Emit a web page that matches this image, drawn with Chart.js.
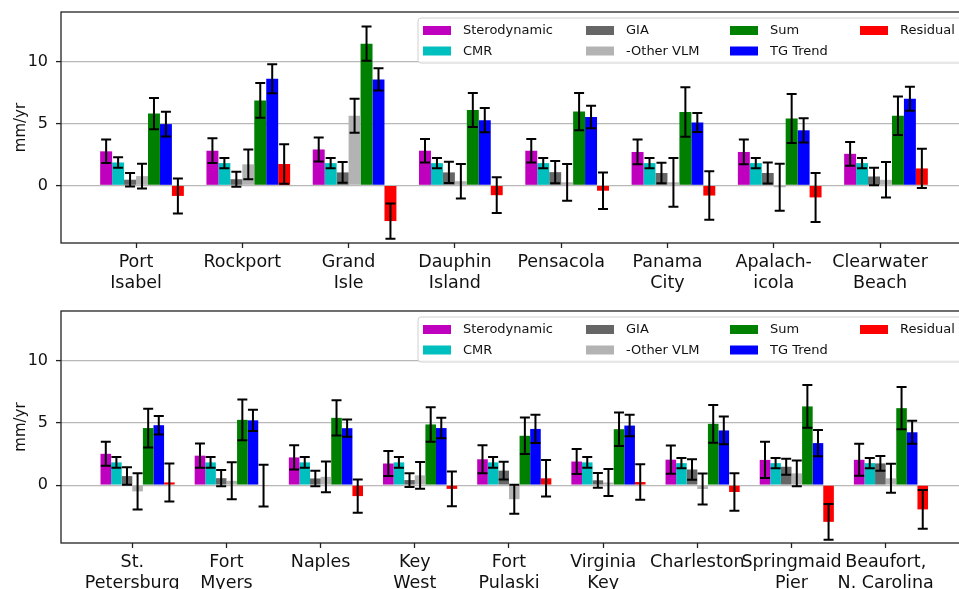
<!DOCTYPE html>
<html><head><meta charset="utf-8">
<script src="https://cdn.jsdelivr.net/npm/chart.js@4/dist/chart.umd.min.js"></script>
<style>
html,body{margin:0;padding:0;background:#fff;width:959px;height:589px;overflow:hidden;position:relative;}
canvas{position:absolute;left:0;}
#c1{top:0px} #c2{top:300px}
</style></head><body>
<canvas id="c1" width="965" height="300"></canvas>
<canvas id="c2" width="965" height="310"></canvas>
<script>
// ---------- data ----------
const seriesNames = ['Sterodynamic', 'CMR', 'GIA', '-Other VLM', 'Sum', 'TG Trend', 'Residual'];
const seriesColors = ['#bf00bf', '#00bfbf', '#666666', '#b3b3b3', '#008000', '#0000ff', '#ff0000'];
const yTicks = [0, 5, 10];

// top panel
const topStations = [['Port', 'Isabel'], 'Rockport', ['Grand', 'Isle'], ['Dauphin', 'Island'], 'Pensacola', ['Panama', 'City'], ['Apalach-', 'icola'], ['Clearwater', 'Beach']];
const topSterodynamic = [2.75, 2.8, 2.9, 2.8, 2.8, 2.7, 2.7, 2.55];
const topSterodynamicErr = [0.95, 1.0, 0.96, 0.95, 0.95, 1.0, 1.0, 0.96];
const topCMR = [1.85, 1.8, 1.8, 1.8, 1.8, 1.8, 1.8, 1.8];
const topCMRErr = [0.42, 0.42, 0.42, 0.42, 0.42, 0.42, 0.42, 0.42];
const topGIA = [0.46, 0.5, 1.05, 1.05, 1.07, 1.0, 1.0, 0.72];
const topGIAErr = [0.55, 0.6, 0.83, 0.85, 0.9, 0.83, 0.85, 0.71];
const topOtherVLM = [0.75, 1.7, 5.63, 0.34, 0.25, 0.25, -0.15, 0.45];
const topOtherVLMErr = [1.0, 1.2, 1.37, 1.39, 1.48, 1.97, 1.9, 1.43];
const topSum = [5.8, 6.86, 11.44, 6.09, 5.96, 5.92, 5.4, 5.62];
const topSumErr = [1.26, 1.4, 1.38, 1.38, 1.5, 2.0, 1.98, 1.56];
const topTG = [4.95, 8.62, 8.56, 5.27, 5.52, 5.08, 4.45, 6.99];
const topTGErr = [1.0, 1.17, 0.9, 0.97, 0.91, 0.77, 0.98, 0.97];
const topResidual = [-0.85, 1.73, -2.88, -0.79, -0.43, -0.82, -0.97, 1.37];
const topResidualErr = [1.41, 1.6, 1.42, 1.44, 1.48, 1.96, 1.98, 1.58];

// bottom panel
const botStations = [['St.', 'Petersburg'], ['Fort', 'Myers'], 'Naples', ['Key', 'West'], ['Fort', 'Pulaski'], ['Virginia', 'Key'], 'Charleston', ['Springmaid', 'Pier'], ['Beaufort,', 'N. Carolina']];
const botSterodynamic = [2.52, 2.37, 2.23, 1.74, 2.08, 1.9, 2.05, 2.03, 2.04];
const botSterodynamicErr = [0.97, 0.97, 0.97, 1.0, 1.13, 1.0, 1.13, 1.45, 1.28];
const botCMR = [1.83, 1.83, 1.83, 1.83, 1.83, 1.83, 1.77, 1.77, 1.77];
const botCMRErr = [0.43, 0.43, 0.43, 0.43, 0.43, 0.43, 0.42, 0.42, 0.42];
const botGIA = [0.73, 0.56, 0.54, 0.41, 1.17, 0.39, 1.26, 1.48, 1.75];
const botGIAErr = [0.7, 0.65, 0.62, 0.55, 0.71, 0.59, 0.83, 0.65, 0.6];
const botOtherVLM = [-0.5, 0.35, 0.67, 0.79, -1.13, 0.21, -0.31, 0.95, 0.55];
const botOtherVLMErr = [1.45, 1.49, 1.24, 1.08, 1.17, 1.08, 1.25, 1.04, 1.17];
const botSum = [4.59, 5.25, 5.41, 4.88, 3.97, 4.5, 4.93, 6.33, 6.19];
const botSumErr = [1.56, 1.64, 1.41, 1.39, 1.47, 1.35, 1.52, 1.72, 1.7];
const botTG = [4.82, 5.21, 4.58, 4.59, 4.52, 4.79, 4.4, 3.38, 4.25];
const botTGErr = [0.74, 0.85, 0.69, 0.82, 1.13, 0.86, 1.12, 1.05, 0.92];
const botResidual = [0.22, -0.04, -0.88, -0.3, 0.55, 0.25, -0.55, -2.95, -1.95];
const botResidualErr = [1.53, 1.68, 1.33, 1.39, 1.47, 1.43, 1.51, 1.44, 1.56];

// ---------- plugins ----------
const FONT = 'DejaVu Sans';

const errorBarPlugin = {
  id: 'errorBars',
  afterDatasetsDraw(chart) {
    const ctx = chart.ctx, ys = chart.scales.y;
    ctx.save();
    ctx.strokeStyle = '#000';
    ctx.lineWidth = 2;
    chart.data.datasets.forEach((ds, di) => {
      if (!ds.errors) return;
      const meta = chart.getDatasetMeta(di);
      meta.data.forEach((bar, i) => {
        const v = ds.data[i].y, e = ds.errors[i];
        const x = bar.x;
        const y1 = ys.getPixelForValue(v + e), y2 = ys.getPixelForValue(v - e);
        ctx.beginPath();
        ctx.moveTo(x, y1); ctx.lineTo(x, y2);
        ctx.moveTo(x - 5, y1); ctx.lineTo(x + 5, y1);
        ctx.moveTo(x - 5, y2); ctx.lineTo(x + 5, y2);
        ctx.stroke();
      });
    });
    ctx.restore();
  }
};

const framePlugin = {
  id: 'frame',
  afterDraw(chart) {
    const {ctx, chartArea: a} = chart;
    ctx.save();
    ctx.strokeStyle = '#222';
    ctx.lineWidth = 1.3;
    ctx.strokeRect(a.left, a.top, a.right - a.left, a.bottom - a.top);
    ctx.restore();
  }
};

const boxLegendPlugin = {
  id: 'boxLegend',
  afterDraw(chart) {
    const {ctx, chartArea: a} = chart;
    const bx = a.left + 357, by = a.top + 6, bw = a.right - bx + 20, bh = 45, r = 3;
    ctx.save();
    ctx.beginPath();
    ctx.moveTo(bx + r, by);
    ctx.lineTo(bx + bw - r, by);
    ctx.arcTo(bx + bw, by, bx + bw, by + r, r);
    ctx.lineTo(bx + bw, by + bh - r);
    ctx.arcTo(bx + bw, by + bh, bx + bw - r, by + bh, r);
    ctx.lineTo(bx + r, by + bh);
    ctx.arcTo(bx, by + bh, bx, by + bh - r, r);
    ctx.lineTo(bx, by + r);
    ctx.arcTo(bx, by, bx + r, by, r);
    ctx.closePath();
    ctx.fillStyle = 'rgba(255,255,255,0.85)';
    ctx.fill();
    ctx.strokeStyle = '#d0d0d0';
    ctx.lineWidth = 1;
    ctx.stroke();
    const colX = [362, 525, 669, 799];
    const rowY = [18.5, 39];
    ctx.font = '13px "' + FONT + '"';
    ctx.textBaseline = 'middle';
    ctx.textAlign = 'left';
    seriesNames.forEach((name, i) => {
      const c = Math.floor(i / 2), rr = i % 2;
      const sx = a.left + colX[c], sy = a.top + rowY[rr];
      ctx.fillStyle = seriesColors[i];
      ctx.fillRect(sx, sy - 4.5, 28, 9);
      ctx.fillStyle = '#111';
      ctx.fillText(name, sx + 40, sy + 0.5);
    });
    ctx.restore();
  }
};

// ---------- chart builder ----------
function makeChart(id, stations, values, errors, xmin, xmax, padTop, xAxisH) {
  const datasets = [{
    label: '', data: stations.map((_, i) => ({x: i, y: 0})),
    backgroundColor: 'rgba(0,0,0,0)', borderWidth: 0
  }];
  values.forEach((vals, s) => {
    datasets.push({
      label: seriesNames[s],
      data: vals.map((v, i) => ({x: i, y: v})),
      errors: errors[s],
      backgroundColor: seriesColors[s],
      borderWidth: 0
    });
  });
  return new Chart(document.getElementById(id), {
    type: 'bar',
    data: {datasets},
    options: {
      responsive: false, animation: false, devicePixelRatio: 1,
      layout: {padding: {top: padTop, right: 4, left: 0, bottom: 0}},
      plugins: {legend: {display: false}, tooltip: {enabled: false}, title: {display: false}},
      datasets: {bar: {categoryPercentage: 0.9, barPercentage: 1}},
      scales: {
        x: {
          type: 'linear', min: xmin, max: xmax, offset: false, bounds: 'data',
          grid: {offset: false, display: true, drawOnChartArea: false, drawTicks: true, tickLength: 5, tickColor: '#222', tickWidth: 1.3},
          border: {display: false},
          afterBuildTicks: s => { s.ticks = stations.map((_, i) => ({value: i})); },
          afterFit: s => { s.height = xAxisH; s.paddingLeft = 0; s.paddingRight = 0; s.paddingTop = 0; s.paddingBottom = 0; },
          ticks: {autoSkip: false, maxRotation: 0, minRotation: 0, padding: 4, color: '#111',
                  font: {family: FONT, size: 17.5},
                  callback: (v, i) => stations[i]}
        },
        y: {
          min: -4.65, max: 14, bounds: 'data',
          grid: {color: '#b8b8b8', lineWidth: 1.2, drawTicks: true, tickLength: 5, tickColor: '#222', tickWidth: 1.3},
          border: {display: false},
          afterBuildTicks: s => { s.ticks = yTicks.map(v => ({value: v})); },
          afterFit: s => { s.width = 61; s.paddingTop = 0; s.paddingBottom = 0; s.paddingLeft = 0; s.paddingRight = 0; },
          ticks: {padding: 8, color: '#111', font: {family: FONT, size: 16}},
          title: {display: true, text: 'mm/yr', color: '#111', font: {family: FONT, size: 15}, padding: {top: 12, bottom: 0}}
        }
      }
    },
    plugins: [errorBarPlugin, framePlugin, boxLegendPlugin]
  });
}

makeChart('c1', topStations,
  [topSterodynamic, topCMR, topGIA, topOtherVLM, topSum, topTG, topResidual],
  [topSterodynamicErr, topCMRErr, topGIAErr, topOtherVLMErr, topSumErr, topTGErr, topResidualErr],
  -0.706, 7.762, 12, 57);

makeChart('c2', botStations,
  [botSterodynamic, botCMR, botGIA, botOtherVLM, botSum, botTG, botResidual],
  [botSterodynamicErr, botCMRErr, botGIAErr, botOtherVLMErr, botSumErr, botTGErr, botResidualErr],
  -0.757, 8.80, 11, 67);
</script>
</body></html>
